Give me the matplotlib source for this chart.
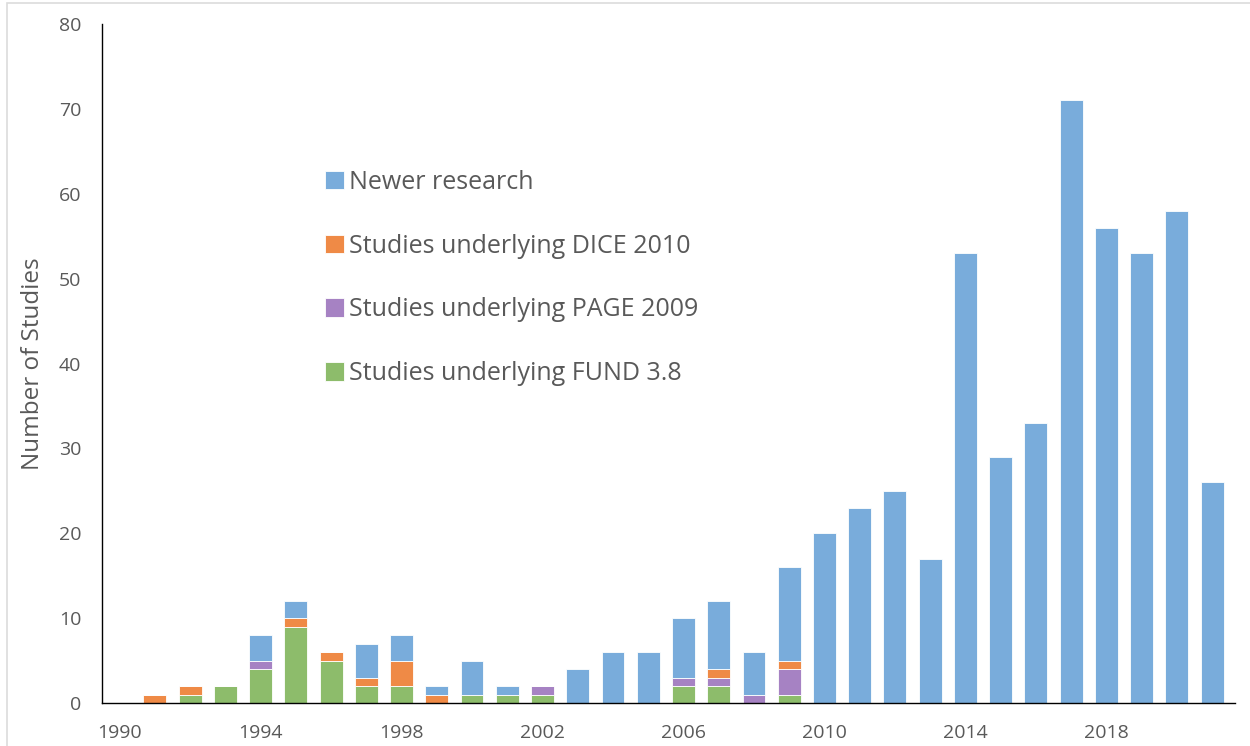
# plot.py
# Stacked bar chart of damage-function studies per publication year.

import matplotlib
matplotlib.use("Agg")
import matplotlib.pyplot as plt
from matplotlib.patches import Rectangle
import numpy as np

years = list(range(1990, 2022))

# studies per year, bottom to top of each stack
fund = [0, 0, 1, 2, 4, 9, 5, 2, 2, 0, 1, 1, 1, 0, 0, 0,
        2, 2, 0, 1, 0, 0, 0, 0, 0, 0, 0, 0, 0, 0, 0, 0]
page = [0, 0, 0, 0, 1, 0, 0, 0, 0, 0, 0, 0, 1, 0, 0, 0,
        1, 1, 1, 3, 0, 0, 0, 0, 0, 0, 0, 0, 0, 0, 0, 0]
dice = [0, 1, 1, 0, 0, 1, 1, 1, 3, 1, 0, 0, 0, 0, 0, 0,
        0, 1, 0, 1, 0, 0, 0, 0, 0, 0, 0, 0, 0, 0, 0, 0]
newer = [0, 0, 0, 0, 3, 2, 0, 4, 3, 1, 4, 1, 0, 4, 6, 6,
         7, 8, 5, 11, 20, 23, 25, 17, 53, 29, 33, 71, 56, 53, 58, 26]

tick_years = [1990, 1994, 1998, 2002, 2006, 2010, 2014, 2018]

C_BLUE = "#79acdb"
C_ORANGE = "#ef8a46"
C_PURPLE = "#a682c3"
C_GREEN = "#8dbc6b"
TXT = "#595959"


def main():
    plt.rcParams["font.family"] = ["Open Sans", "DejaVu Sans"]

    fig = plt.figure(figsize=(12.5, 7.46), dpi=100)
    ax = fig.add_axes([0.0816, 0.0576, 0.9064, 0.9102])

    x = np.arange(len(years))
    width = 0.65
    kw = dict(width=width, edgecolor="white", linewidth=0.6)

    bottom = np.zeros(len(years))
    b_fund = ax.bar(x, fund, bottom=bottom, color=C_GREEN, **kw)
    bottom += np.array(fund)
    b_page = ax.bar(x, page, bottom=bottom, color=C_PURPLE, **kw)
    bottom += np.array(page)
    b_dice = ax.bar(x, dice, bottom=bottom, color=C_ORANGE, **kw)
    bottom += np.array(dice)
    b_new = ax.bar(x, newer, bottom=bottom, color=C_BLUE, **kw)

    ax.set_xlim(-0.5, len(years) - 0.5 + 0.15)
    ax.set_ylim(0, 80)
    ax.set_yticks(range(0, 81, 10))
    ax.set_xticks([years.index(y) for y in tick_years])
    ax.set_xticklabels([str(y) for y in tick_years])
    ax.tick_params(axis="both", length=0, labelsize=14, colors=TXT)
    ax.tick_params(axis="y", pad=15)
    ax.tick_params(axis="x", pad=15)

    for s in ["top", "right"]:
        ax.spines[s].set_visible(False)
    ax.spines["left"].set_color("black")
    ax.spines["bottom"].set_color("black")
    ax.spines["left"].set_linewidth(1.0)
    ax.spines["bottom"].set_linewidth(1.0)

    ax.set_ylabel("Number of Studies", fontsize=17.5, color=TXT, labelpad=10)

    ax.legend(
        [b_new, b_dice, b_page, b_fund],
        ["Newer research", "Studies underlying DICE 2010",
         "Studies underlying PAGE 2009", "Studies underlying FUND 3.8"],
        loc="upper left", bbox_to_anchor=(0.188, 0.80),
        frameon=False, fontsize=18, labelcolor=TXT,
        handlelength=0.75, handleheight=0.75, handletextpad=0.2,
        labelspacing=1.55, borderaxespad=0,
    )

    # faint frame edge left over from the original figure crop
    fig.patches.append(Rectangle((7 / 1250, -0.1), 1.2, 1.1 - 3 / 746,
                                 transform=fig.transFigure, fill=False,
                                 edgecolor="#dcdcdc", linewidth=1.2))

    fig.savefig("out.png", dpi=100)


if __name__ == "__main__":
    main()
